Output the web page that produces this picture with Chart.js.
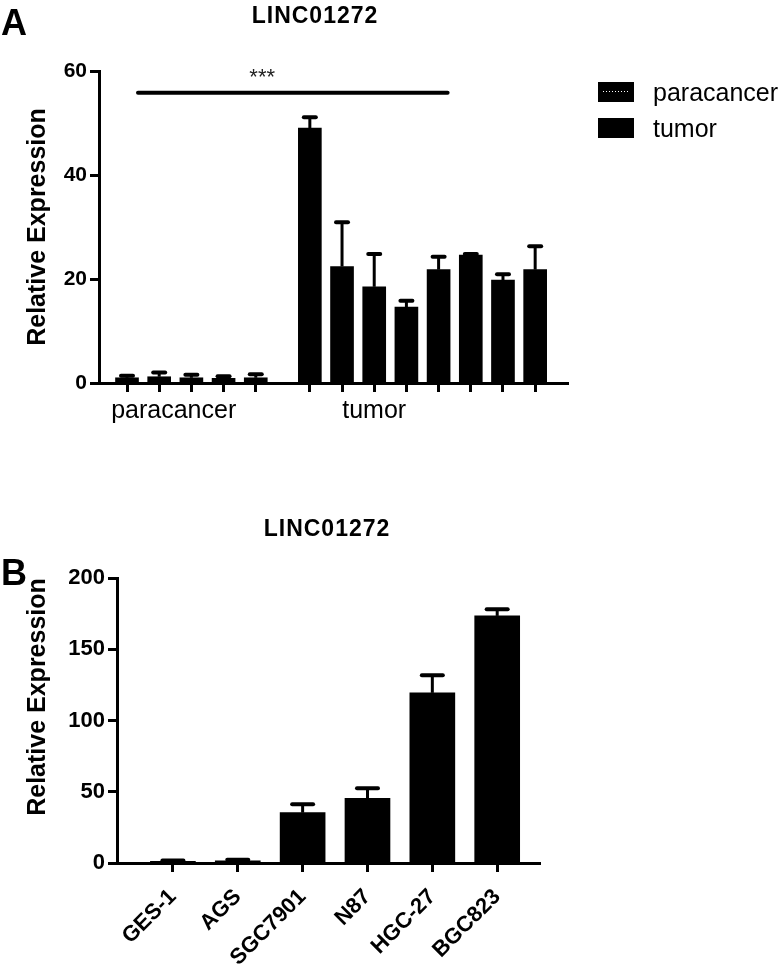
<!DOCTYPE html>
<html>
<head>
<meta charset="utf-8">
<script src="https://cdn.jsdelivr.net/npm/chart.js@4.4.1/dist/chart.umd.min.js"></script>
<style>
  body { margin: 0; background: #fff; }
  #wrapA { position: absolute; left: 0; top: 0; width: 784px; height: 470px; }
  #wrapB { position: absolute; left: 0; top: 470px; width: 784px; height: 499px; }
</style>
</head>
<body>
<div id="wrapA"><canvas id="chartA" width="784" height="470"></canvas></div>
<div id="wrapB"><canvas id="chartB" width="784" height="499"></canvas></div>
<script>
const FONT = "'Liberation Sans', Arial, Helvetica, sans-serif";

// Panel A - tissue samples
const groupLabels = ['paracancer', 'tumor'];
const paraValues = [1.0, 1.2, 1.0, 0.9, 1.0];
const paraErrors = [0.4, 0.8, 0.6, 0.4, 0.7];
const tumorValues = [49.0, 22.4, 18.5, 14.6, 21.8, 24.6, 19.8, 21.8];
const tumorErrors = [2.1, 8.5, 6.3, 1.2, 2.5, 0.2, 1.1, 4.5];
const yTicksA = [0, 20, 40, 60];
const sigLevelA = 55.8;

// Panel B - cell lines
const cellLines = ['GES-1', 'AGS', 'SGC7901', 'N87', 'HGC-27', 'BGC823'];
const cellValues = [1.2, 1.5, 35.3, 45.4, 119.4, 173.4];
const cellErrors = [0.6, 0.8, 5.9, 7.0, 12.4, 4.7];
const yTicksB = [0, 50, 100, 150, 200];

// gap between the two groups of panel A, in bar slots
const GROUP_GAP = 0.68;
const paraX = paraValues.map((_, i) => i);
const tumorX = tumorValues.map((_, i) => paraValues.length + GROUP_GAP + i);
const cellX = cellLines.map((_, i) => i);

function axisStyle(tickFont) {
    return {
        offset: false,
        grid: { offset: false, drawOnChartArea: false, drawTicks: true, tickLength: 9, tickWidth: 3, color: '#000' },
        border: { display: true, color: '#000', width: 3 },
        ticks: { color: '#000', font: tickFont }
    };
}

function makeErrorBars(capWidth, capThickness) {
    return {
        id: 'errorBars',
        afterDatasetsDraw(chart) {
            const ctx = chart.ctx;
            const yScale = chart.scales.y;
            chart.data.datasets.forEach((ds, di) => {
                const meta = chart.getDatasetMeta(di);
                meta.data.forEach((bar, i) => {
                    const top = yScale.getPixelForValue(ds.data[i].y + ds.errors[i]);
                    ctx.save();
                    ctx.strokeStyle = '#000';
                    ctx.lineWidth = 3;
                    ctx.beginPath();
                    ctx.moveTo(bar.x, bar.y);
                    ctx.lineTo(bar.x, top);
                    ctx.stroke();
                    ctx.lineCap = 'round';
                    ctx.lineWidth = capThickness;
                    ctx.beginPath();
                    ctx.moveTo(bar.x - capWidth / 2, top);
                    ctx.lineTo(bar.x + capWidth / 2, top);
                    ctx.stroke();
                    ctx.restore();
                });
            });
        }
    };
}

function drawTitle(ctx, text, cx, cy) {
    ctx.save();
    ctx.font = 'bold 23px ' + FONT;
    ctx.letterSpacing = '1px';
    ctx.fillStyle = '#000';
    ctx.textAlign = 'center';
    ctx.textBaseline = 'middle';
    ctx.fillText(text, cx, cy);
    ctx.restore();
}

function drawYTitle(ctx, text, cx, cy) {
    ctx.save();
    ctx.translate(cx, cy);
    ctx.rotate(-Math.PI / 2);
    ctx.font = 'bold 25px ' + FONT;
    ctx.fillStyle = '#000';
    ctx.textAlign = 'center';
    ctx.textBaseline = 'middle';
    ctx.fillText(text, 0, 0);
    ctx.restore();
}

const annotationsA = {
    id: 'annotationsA',
    afterDraw(chart) {
        const ctx = chart.ctx;
        const xs = chart.scales.x;
        const ys = chart.scales.y;

        ctx.save();
        ctx.fillStyle = '#000';
        ctx.font = 'bold 36px ' + FONT;
        ctx.textBaseline = 'alphabetic';
        ctx.fillText('A', 1, 35);
        ctx.restore();

        drawTitle(ctx, 'LINC01272', 315, 17);
        drawYTitle(ctx, 'Relative Expression', 38, 227);

        // significance line
        const sy = ys.getPixelForValue(sigLevelA);
        ctx.save();
        ctx.strokeStyle = '#000';
        ctx.lineWidth = 4;
        ctx.lineCap = 'round';
        ctx.beginPath();
        ctx.moveTo(xs.getPixelForValue(paraX[0]) + 11, sy);
        ctx.lineTo(xs.getPixelForValue(tumorX[4]) + 9, sy);
        ctx.stroke();
        ctx.fillStyle = '#222';
        ctx.font = '22px ' + FONT;
        ctx.textAlign = 'center';
        ctx.textBaseline = 'alphabetic';
        ctx.fillText('***', xs.getPixelForValue(4.2), sy - 9);
        ctx.restore();

        // group labels under the axis
        ctx.save();
        ctx.fillStyle = '#000';
        ctx.font = '25px ' + FONT;
        ctx.textAlign = 'center';
        ctx.textBaseline = 'alphabetic';
        ctx.fillText(groupLabels[0], xs.getPixelForValue(1.45), 418);
        ctx.fillText(groupLabels[1], xs.getPixelForValue(tumorX[2]), 418);
        ctx.restore();

        // legend
        ctx.save();
        ctx.fillStyle = '#000';
        ctx.fillRect(598, 82, 36, 20);
        ctx.fillRect(598, 118, 36, 20);
        ctx.fillStyle = '#fff';
        for (let x = 603; x <= 629; x += 3) ctx.fillRect(x, 91, 1, 1);
        ctx.fillStyle = '#000';
        ctx.font = '25px ' + FONT;
        ctx.textBaseline = 'alphabetic';
        ctx.fillText(groupLabels[0], 653, 101);
        ctx.fillText(groupLabels[1], 653, 137);
        ctx.restore();
    }
};

const annotationsB = {
    id: 'annotationsB',
    afterDraw(chart) {
        const ctx = chart.ctx;
        ctx.save();
        ctx.fillStyle = '#000';
        ctx.font = 'bold 36px ' + FONT;
        ctx.textBaseline = 'alphabetic';
        ctx.fillText('B', 1, 115);
        ctx.restore();

        drawTitle(ctx, 'LINC01272', 327, 60);
        drawYTitle(ctx, 'Relative Expression', 38, 227);
    }
};

const tickFontA = { family: FONT, size: 21, weight: 'bold' };
const tickFontB = { family: FONT, size: 22, weight: 'bold' };

const xA = axisStyle(tickFontA);
xA.ticks.callback = () => '';   // group labels are drawn separately

new Chart(document.getElementById('chartA'), {
    type: 'bar',
    data: {
        datasets: [
            {
                label: groupLabels[0],
                data: paraX.map((x, i) => ({ x: x, y: paraValues[i] })),
                errors: paraErrors,
                backgroundColor: '#000',
                barThickness: 23,
                grouped: false
            },
            {
                label: groupLabels[1],
                data: tumorX.map((x, i) => ({ x: x, y: tumorValues[i] })),
                errors: tumorErrors,
                backgroundColor: '#000',
                barThickness: 23,
                grouped: false
            }
        ]
    },
    options: {
        responsive: false,
        animation: false,
        layout: { padding: { top: 71, right: 216, left: 0, bottom: 0 } },
        plugins: { legend: { display: false }, tooltip: { enabled: false } },
        scales: {
            x: Object.assign(xA, {
                type: 'linear',
                min: -0.87,
                max: 13.7,
                afterBuildTicks: s => { s.ticks = paraX.concat(tumorX).map(v => ({ value: v })); },
                afterFit: s => { s.height = 87; }
            }),
            y: Object.assign(axisStyle(tickFontA), {
                min: 0,
                max: 60,
                afterBuildTicks: s => { s.ticks = yTicksA.map(v => ({ value: v })); },
                afterFit: s => { s.width = 99; }
            })
        }
    },
    plugins: [makeErrorBars(12, 4), annotationsA]
});

const xB = axisStyle({ family: FONT, size: 22, weight: 'bold' });
xB.ticks.callback = v => cellLines[v] !== undefined ? cellLines[v] : '';
xB.ticks.minRotation = 45;
xB.ticks.maxRotation = 45;
xB.ticks.autoSkip = false;
xB.ticks.padding = 12;

new Chart(document.getElementById('chartB'), {
    type: 'bar',
    data: {
        datasets: [
            {
                label: 'LINC01272',
                data: cellX.map((x, i) => ({ x: x, y: cellValues[i] })),
                errors: cellErrors,
                backgroundColor: '#000',
                barThickness: 45,
                grouped: false
            }
        ]
    },
    options: {
        responsive: false,
        animation: false,
        layout: { padding: { top: 108, right: 244, left: 0, bottom: 0 } },
        plugins: { legend: { display: false }, tooltip: { enabled: false } },
        scales: {
            x: Object.assign(xB, {
                type: 'linear',
                min: -0.862,
                max: 5.66,
                afterBuildTicks: s => { s.ticks = cellX.map(v => ({ value: v })); },
                afterFit: s => { s.height = 106; }
            }),
            y: Object.assign(axisStyle(tickFontB), {
                min: 0,
                max: 200,
                afterBuildTicks: s => { s.ticks = yTicksB.map(v => ({ value: v })); },
                afterFit: s => { s.width = 117; }
            })
        }
    },
    plugins: [makeErrorBars(21, 4), annotationsB]
});
</script>
</body>
</html>
